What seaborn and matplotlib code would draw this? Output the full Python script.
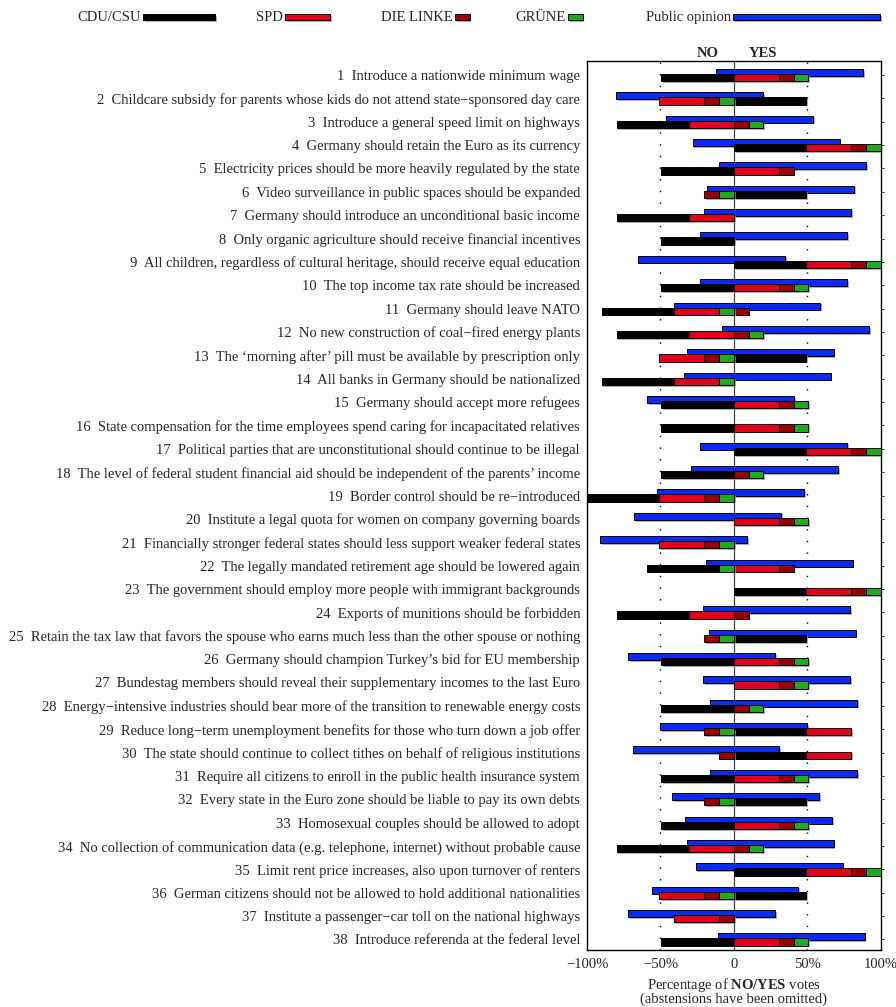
import numpy as np
import pandas as pd
import matplotlib
matplotlib.use("Agg")
import matplotlib.pyplot as plt
import matplotlib.patheffects as pe
import seaborn as sns

# ---------------- data ----------------
questions = [
    "Introduce a nationwide minimum wage",
    "Childcare subsidy for parents whose kids do not attend state\u2212sponsored day care",
    "Introduce a general speed limit on highways",
    "Germany should retain the Euro as its currency",
    "Electricity prices should be more heavily regulated by the state",
    "Video surveillance in public spaces should be expanded",
    "Germany should introduce an unconditional basic income",
    "Only organic agriculture should receive financial incentives",
    "All children, regardless of cultural heritage, should receive equal education",
    "The top income tax rate should be increased",
    "Germany should leave NATO",
    "No new construction of coal\u2212fired energy plants",
    "The \u2018morning after\u2019 pill must be available by prescription only",
    "All banks in Germany should be nationalized",
    "Germany should accept more refugees",
    "State compensation for the time employees spend caring for incapacitated relatives",
    "Political parties that are unconstitutional should continue to be illegal",
    "The level of federal student financial aid should be independent of the parents\u2019 income",
    "Border control should be re\u2212introduced",
    "Institute a legal quota for women on company governing boards",
    "Financially stronger federal states should less support weaker federal states",
    "The legally mandated retirement age should be lowered again",
    "The government should employ more people with immigrant backgrounds",
    "Exports of munitions should be forbidden",
    "Retain the tax law that favors the spouse who earns much less than the other spouse or nothing",
    "Germany should champion Turkey\u2019s bid for EU membership",
    "Bundestag members should reveal their supplementary incomes to the last Euro",
    "Energy\u2212intensive industries should bear more of the transition to renewable energy costs",
    "Reduce long\u2212term unemployment benefits for those who turn down a job offer",
    "The state should continue to collect tithes on behalf of religious institutions",
    "Require all citizens to enroll in the public health insurance system",
    "Every state in the Euro zone should be liable to pay its own debts",
    "Homosexual couples should be allowed to adopt",
    "No collection of communication data (e.g. telephone, internet) without probable cause",
    "Limit rent price increases, also upon turnover of renters",
    "German citizens should not be allowed to hold additional nationalities",
    "Institute a passenger\u2212car toll on the national highways",
    "Introduce referenda at the federal level",
]

parties = ["CDU/CSU", "SPD", "DIE LINKE", "GR\u00dcNE"]
seat_share = [49.3, 30.6, 10.1, 10.0]          # % of Bundestag seats

# Y = yes, N = no, - = abstained / not shown
vote_cdu = list("NYNYNYNNYN" "NNYNNNYNN-" "-NYNYN-NYY" "NYNNYY-N")
vote_spd = list("YNNYY-N-YY" "NNNNYYY-NY" "NYYN-YY-YY" "Y-YNYNNY")
vote_linke = list("YNYYYN--YY" "YYN-YYYYNY" "NYYYNYYYNN" "YNYYYNNY")
vote_gruene = list("YNYY-N--YY" "NYNNYYYYNY" "NNY-NYYYN-" "YNYYYN-Y")

# public opinion (% yes / % no, abstentions omitted); NaN = no poll
pub_yes = [88, 20, 54, 72, 90, 82, 80, 77, 35, 77,
           59, 92, 68, 66, 41, np.nan, 77, 71, 48, 32,
           9, 81, np.nan, 79, 83, 28, 79, 84, 50, 31,
           84, 58, 67, 68, 74, 44, 28, 89]
pub_no = [12, 80, 46, 28, 10, 18, 20, 23, 65, 23,
          41, 8, 32, 34, 59, np.nan, 23, 29, 52, 68,
          91, 19, np.nan, 21, 17, 72, 21, 16, 50, 69,
          16, 42, 33, 32, 26, 56, 72, 11]

party_colors = ["#000000", "#E2001A", "#990000", "#1EAA1E"]
pub_color = "#0A2AF5"

x_ticks = [-100, -50, 0, 50, 100]
x_ticklabels = ["\u2212100%", "\u221250%", "0", "50%", "100%"]

# ---------------- style ----------------
sns.set_theme(style="white")
plt.rcParams["font.family"] = ["Liberation Serif", "DejaVu Serif"]
plt.rcParams["mathtext.fontset"] = "custom"
plt.rcParams["mathtext.rm"] = "Liberation Serif"
plt.rcParams["mathtext.bf"] = "Liberation Serif:bold"
plt.rcParams["axes.unicode_minus"] = True
FS = 10.5

W, H = 896, 1007
fig = plt.figure(figsize=(W / 100, H / 100), dpi=100)
ax_l, ax_r, ax_t, ax_b = 587, 880.7, 60.7, 950
ax = fig.add_axes([ax_l / W, 1 - ax_b / H, (ax_r - ax_l) / W, (ax_b - ax_t) / H])

n = len(questions)
rows = np.arange(n)

# build party segments
votes = [vote_cdu, vote_spd, vote_linke, vote_gruene]
seg = []
for q in range(n):
    cum = 0.0
    for p in range(4):
        if votes[p][q] == "Y":
            seg.append((q, p, cum, seat_share[p]))
            cum += seat_share[p]
    cum = 0.0
    for p in reversed(range(4)):
        if votes[p][q] == "N":
            seg.append((q, p, -cum - seat_share[p], seat_share[p]))
            cum += seat_share[p]
segdf = pd.DataFrame(seg, columns=["q", "party", "left", "width"])

shadow = [pe.SimplePatchShadow(offset=(1.2, -1.2), shadow_rgbFace=(0.55, 0.55, 0.55), alpha=0.7),
          pe.Normal()]

# public opinion bars
py = np.array(pub_yes, dtype=float)
pn = np.array(pub_no, dtype=float)
mask = ~np.isnan(py)
bars = ax.barh(rows[mask] - 0.11, py[mask] + pn[mask], left=-pn[mask], height=0.3,
               color=pub_color, edgecolor="black", linewidth=0.7, zorder=3)
for b in bars:
    b.set_path_effects(shadow)

# party bars
for p in range(4):
    d = segdf[segdf["party"] == p]
    bars = ax.barh(d["q"] + 0.11, d["width"], left=d["left"], height=0.31,
                   color=party_colors[p], edgecolor="black", linewidth=0.7, zorder=4)
    for b in bars:
        b.set_path_effects(shadow)

# reference lines
ax.axvline(0, color="#444444", lw=0.9, zorder=2)
for xv in (-50, 50):
    ax.axvline(xv, color="black", lw=1.0, linestyle=(0, (1.0, 7.4)), zorder=1)

ax.set_xlim(-100, 100)
ax.set_ylim(n - 1 + 0.45, -0.61)
ax.set_yticks(rows)
ax.set_yticklabels([f"{i + 1}  {q}" for i, q in enumerate(questions)], fontsize=FS)
ax.tick_params(axis="y", left=False, right=True, labelleft=True, labelright=False,
               length=2, width=0.6, direction="out", pad=3, color="black")
ax.set_xticks(x_ticks)
ax.set_xticklabels(x_ticklabels, fontsize=FS)
ax.tick_params(axis="x", bottom=False, length=0, pad=6)
for s in ax.spines.values():
    s.set_color("black")
    s.set_linewidth(1.0)
ax.set_xlabel("Percentage of $\\mathbf{NO/YES}$ votes\n(abstensions have been omitted)",
              fontsize=FS, labelpad=3, linespacing=0.92)

ax.text(-18, -0.9, "NO", ha="center", va="center", fontsize=FS, fontweight="bold", clip_on=False)
ax.text(20, -0.9, "YES", ha="center", va="center", fontsize=FS, fontweight="bold", clip_on=False)

# ---------------- legend (same x scale as the main axes) ----------------
upx = 200.0 / (ax_r - ax_l)           # data units per pixel
lax = fig.add_axes([0, 1 - 32 / H, 1, 30 / H])
lax.set_xlim(-100 - ax_l * upx, -100 + (W - ax_l) * upx)
lax.set_ylim(0, 1)
lax.axis("off")
leg_names = parties + ["Public opinion"]
leg_colors = party_colors + [pub_color]
leg_widths = seat_share + [100.0]
leg_start_px = [143, 285, 455, 568, 733]
leg_start = [(px - ax_l) * upx - 100 for px in leg_start_px]
lb = lax.barh([0.49] * 5, leg_widths, left=leg_start, height=0.2,
              color=leg_colors, edgecolor="black", linewidth=0.7)
for b in lb:
    b.set_path_effects(shadow)
for name, st in zip(leg_names, leg_start):
    lax.text(st - 1.5, 0.49, name, ha="right", va="center", fontsize=FS)

fig.savefig("out.png", dpi=100)
